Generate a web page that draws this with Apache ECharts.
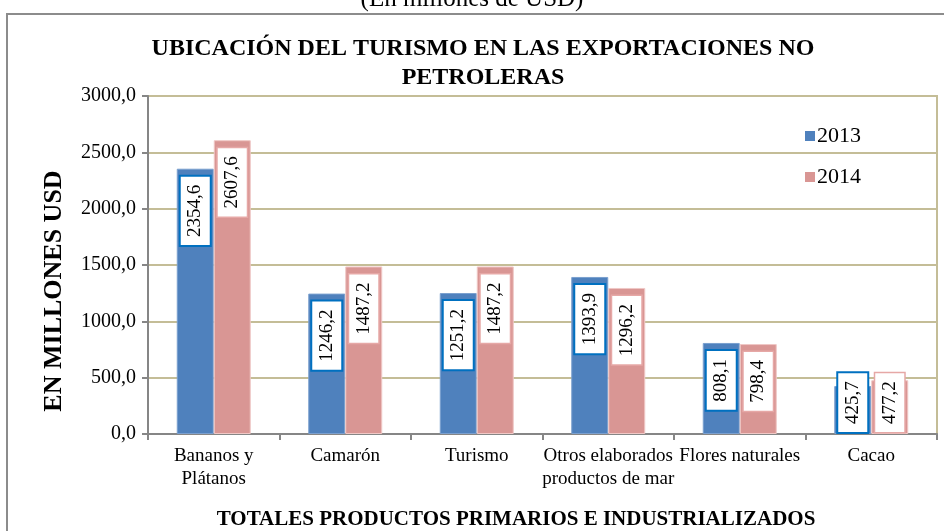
<!DOCTYPE html>
<html>
<head>
<meta charset="utf-8">
<script src="https://cdn.jsdelivr.net/npm/echarts@6/dist/echarts.min.js"></script>
<style>
  html, body { margin: 0; padding: 0; background: #fff; }
  #chart { width: 944px; height: 531px; }
</style>
</head>
<body>
<div id="chart"></div>
<script>
// datos
const categorias = ['Bananos y\nPlátanos', 'Camarón', 'Turismo', 'Otros elaborados\nproductos de mar', 'Flores naturales', 'Cacao'];
const valores2013 = [2354.6, 1246.2, 1251.2, 1393.9, 808.1, 425.7];
const valores2014 = [2607.6, 1487.2, 1487.2, 1296.2, 798.4, 477.2];
const ticksY = [0, 500, 1000, 1500, 2000, 2500, 3000];

const serif = '"Liberation Serif", "Times New Roman", serif';
const coma = v => v.toFixed(1).replace('.', ',');

// etiqueta girada dentro de la barra; las barras cortas la llevan abajo
function etiqueta(borde, anchoBorde) {
  return {
    show: true,
    position: 'insideTop',
    distance: 8,
    rotate: 90,
    align: 'right',
    verticalAlign: 'middle',
    formatter: p => coma(p.value),
    fontFamily: serif,
    fontSize: 19,
    color: '#000',
    backgroundColor: '#fff',
    borderColor: borde,
    borderWidth: anchoBorde,
    padding: [5, 8]
  };
}

function datos(vals) {
  return vals.map(v => v < 600
    ? { value: v, label: { position: 'insideBottom', distance: 2, align: 'left' } }
    : v);
}

const chart = echarts.init(document.getElementById('chart'));
chart.setOption({
  animation: false,
  textStyle: { fontFamily: serif },
  graphic: [
    { type: 'rect', shape: { x: 7, y: 14, width: 1000, height: 600 },
      style: { fill: 'none', stroke: '#8c8c8c', lineWidth: 2 }, z: -1 },
    { type: 'text', x: 472, y: -13,
      style: { text: '(En millones de USD)', font: '25px ' + serif, fill: '#000', align: 'center' } },
    { type: 'text', x: 483, y: 34,
      style: { text: 'UBICACIÓN DEL TURISMO EN LAS EXPORTACIONES NO\nPETROLERAS',
        font: 'bold 24px ' + serif, lineHeight: 29, fill: '#000', align: 'center' } },
    { type: 'text', x: 54, y: 291, rotation: Math.PI / 2,
      style: { text: 'EN MILLONES USD', font: 'bold 26px ' + serif, fill: '#000',
        align: 'center', verticalAlign: 'middle' } },
    { type: 'text', x: 516, y: 509,
      style: { text: 'TOTALES PRODUCTOS PRIMARIOS E INDUSTRIALIZADOS', font: 'bold 21px ' + serif,
        fill: '#000', align: 'center' } }
  ],
  legend: {
    orient: 'vertical',
    left: 800,
    top: 120,
    icon: 'rect',
    itemWidth: 10,
    itemHeight: 10,
    itemGap: 19,
    itemStyle: { borderWidth: 0 },
    textStyle: { fontFamily: serif, fontSize: 22, color: '#000', padding: [0, 0, 0, -3] },
    data: ['2013', '2014']
  },
  grid: {
    left: 148, right: 7, top: 96, bottom: 97,
    show: true, borderColor: '#c4bd97', borderWidth: 2
  },
  xAxis: {
    type: 'category',
    data: categorias,
    axisLine: { lineStyle: { color: '#868686', width: 2 } },
    axisTick: { show: true, length: 6, lineStyle: { color: '#868686', width: 2 } },
    axisLabel: { interval: 0, fontFamily: serif, fontSize: 19, color: '#000', lineHeight: 23, margin: 11 }
  },
  yAxis: {
    type: 'value',
    min: ticksY[0],
    max: ticksY[ticksY.length - 1],
    interval: ticksY[1] - ticksY[0],
    axisLine: { show: true, lineStyle: { color: '#868686', width: 2 } },
    axisTick: { show: true, length: 6, lineStyle: { color: '#868686', width: 2 } },
    splitLine: { lineStyle: { color: '#c4bd97', width: 2 } },
    axisLabel: { fontFamily: serif, fontSize: 20, color: '#000', margin: 12, formatter: coma }
  },
  series: [
    {
      name: '2013', type: 'bar', data: datos(valores2013),
      barWidth: 37, barGap: '0%',
      itemStyle: { color: '#4f81bd', borderColor: '#7ba0cf', borderWidth: 1 },
      label: etiqueta('#0070c0', 2)
    },
    {
      name: '2014', type: 'bar', data: datos(valores2014),
      barWidth: 37,
      itemStyle: { color: '#d99694', borderColor: '#f0c8c6', borderWidth: 1 },
      label: etiqueta('#e6a8a6', 1.5)
    }
  ]
});
</script>
</body>
</html>
